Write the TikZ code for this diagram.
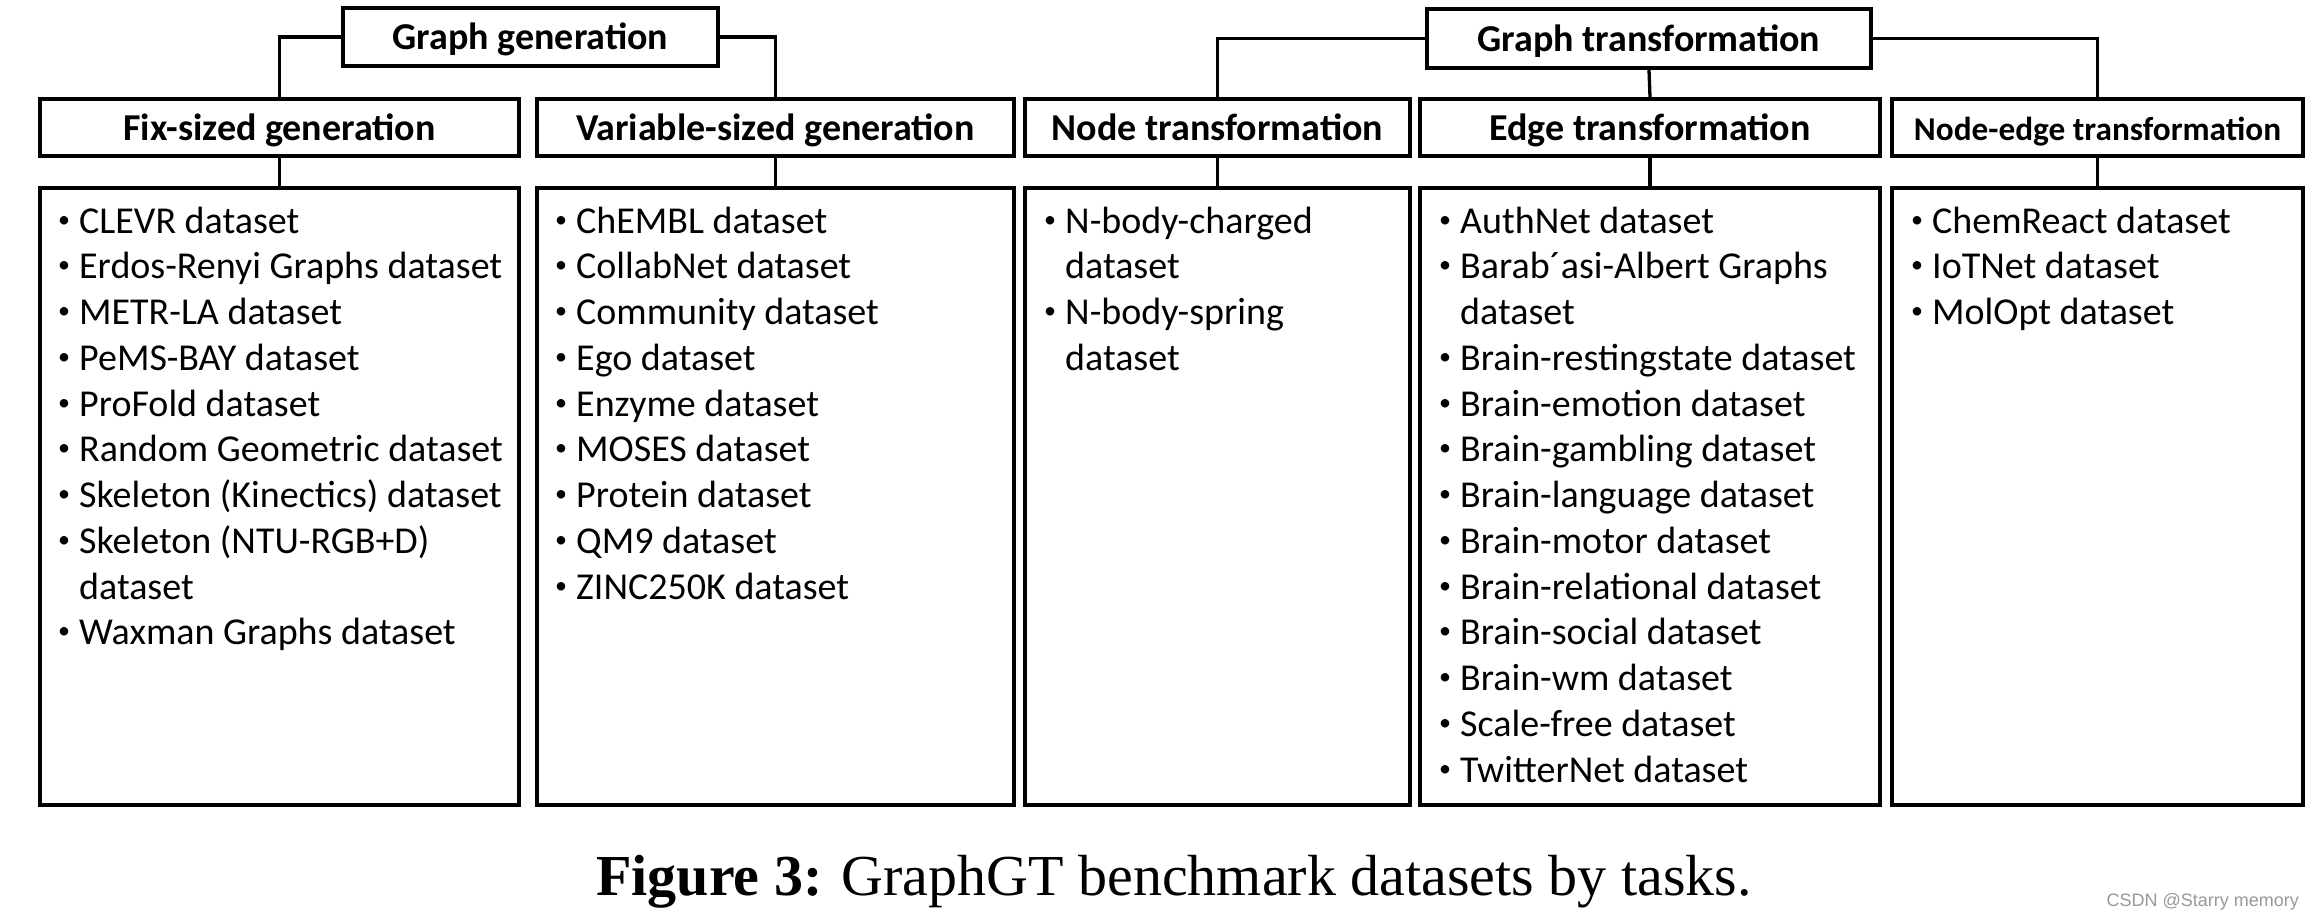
\documentclass[tikz,border=0pt]{standalone}
\usepackage{fontspec}
\setmainfont{Carlito}
\newfontfamily\capfont{Liberation Serif}
\newfontfamily\wmfont{Liberation Sans}
\newcommand\gbul{\makebox[21pt][l]{\raisebox{6pt}{\fontsize{24}{24}\selectfont\textbullet}}}
\newcommand\gitem[1]{\hbox{\gbul#1}}
\newcommand\gcont[1]{\hbox{\hspace*{21pt}#1}}
\newcommand\glist[1]{\vtop{\fontsize{38}{45.75}\selectfont\baselineskip=45.75pt\lineskiplimit=-100pt\lineskip=0pt #1}}
\tikzset{
  hdr/.style={draw, line width=4pt, inner sep=0pt, text height=29pt, text depth=4pt, font=\fontsize{38}{44}\selectfont\bfseries},
  listbox/.style={draw, line width=4pt, inner sep=0pt, minimum height=617pt},
  listtext/.style={anchor=base west, inner sep=0pt},
  conn/.style={line width=3.3pt}
}
\begin{document}
\begin{tikzpicture}[x=1pt,y=-1pt]
\useasboundingbox[fill=white] (0,0) rectangle (2316,918);
% top level
\node[hdr, minimum width=375pt, minimum height=58pt] (gg) at (530.5,37) {Graph generation};
\node[hdr, minimum width=444pt, minimum height=59pt] (gt) at (1649,38.5) {Graph transformation};
% second level
\node[hdr, minimum width=479pt, minimum height=57pt] (fix) at (279.5,127.5) {Fix-sized generation};
\node[hdr, minimum width=477pt, minimum height=57pt] (var) at (775.5,127.5) {Variable-sized generation};
\node[hdr, minimum width=385pt, minimum height=57pt] (nod) at (1217.5,127.5) {Node transformation};
\node[hdr, minimum width=460pt, minimum height=57pt] (edg) at (1650,127.5) {Edge transformation};
\node[hdr, minimum width=411pt, minimum height=57pt, font=\fontsize{33.3}{40}\selectfont\bfseries] (ne) at (2097.5,127.5) {Node-edge transformation};
% list boxes
\node[listbox, minimum width=479pt] (fixL) at (279.5,496.5) {};
\node[listbox, minimum width=477pt] (varL) at (775.5,496.5) {};
\node[listbox, minimum width=385pt] (nodL) at (1217.5,496.5) {};
\node[listbox, minimum width=460pt] (edgL) at (1650,496.5) {};
\node[listbox, minimum width=411pt] (neL) at (2097.5,496.5) {};
% connectors
\draw[conn] (gg.west) -| (fix.north);
\draw[conn] (gg.east) -| (var.north);
\draw[conn] (gt.west) -| (nod.north);
\draw[conn] (gt.east) -| (ne.north);
\draw[conn] (gt.south) -- (edg.north);
\draw[conn] (fix.south) -- (fixL.north);
\draw[conn] (var.south) -- (varL.north);
\draw[conn] (nod.south) -- (nodL.north);
\draw[conn] (edg.south) -- (edgL.north);
\draw[conn] (ne.south) -- (neL.north);
% list texts
\node[listtext] (fixT) at (58,233) {\glist{%
\gitem{CLEVR dataset}
\gitem{Erdos-Renyi Graphs dataset}
\gitem{METR-LA dataset}
\gitem{PeMS-BAY dataset}
\gitem{ProFold dataset}
\gitem{Random Geometric dataset}
\gitem{Skeleton (Kinectics) dataset}
\gitem{Skeleton (NTU-RGB+D)}
\gcont{dataset}
\gitem{Waxman Graphs dataset}}};
\node[listtext] (varT) at (555,233) {\glist{%
\gitem{ChEMBL dataset}
\gitem{CollabNet dataset}
\gitem{Community dataset}
\gitem{Ego dataset}
\gitem{Enzyme dataset}
\gitem{MOSES dataset}
\gitem{Protein dataset}
\gitem{QM9 dataset}
\gitem{ZINC250K dataset}}};
\node[listtext] (nodT) at (1044,233) {\glist{%
\gitem{N-body-charged}
\gcont{dataset}
\gitem{N-body-spring}
\gcont{dataset}}};
\node[listtext] (edgT) at (1439,233) {\glist{%
\gitem{AuthNet dataset}
\gitem{Barab´asi-Albert Graphs}
\gcont{dataset}
\gitem{Brain-restingstate dataset}
\gitem{Brain-emotion dataset}
\gitem{Brain-gambling dataset}
\gitem{Brain-language dataset}
\gitem{Brain-motor dataset}
\gitem{Brain-relational dataset}
\gitem{Brain-social dataset}
\gitem{Brain-wm dataset}
\gitem{Scale-free dataset}
\gitem{TwitterNet dataset}}};
\node[listtext] (neT) at (1911,233) {\glist{%
\gitem{ChemReact dataset}
\gitem{IoTNet dataset}
\gitem{MolOpt dataset}}};
% caption
\node[anchor=base, inner sep=0pt, font=\capfont\fontsize{58}{64}\selectfont] (cap) at (1174,895) {\textbf{Figure 3:} GraphGT benchmark datasets by tasks.};
\node[anchor=base east, inner sep=0pt, font=\wmfont\fontsize{18}{22}\selectfont, text=black!40] (wm) at (2299,906) {CSDN @Starry memory};
\end{tikzpicture}
\end{document}
